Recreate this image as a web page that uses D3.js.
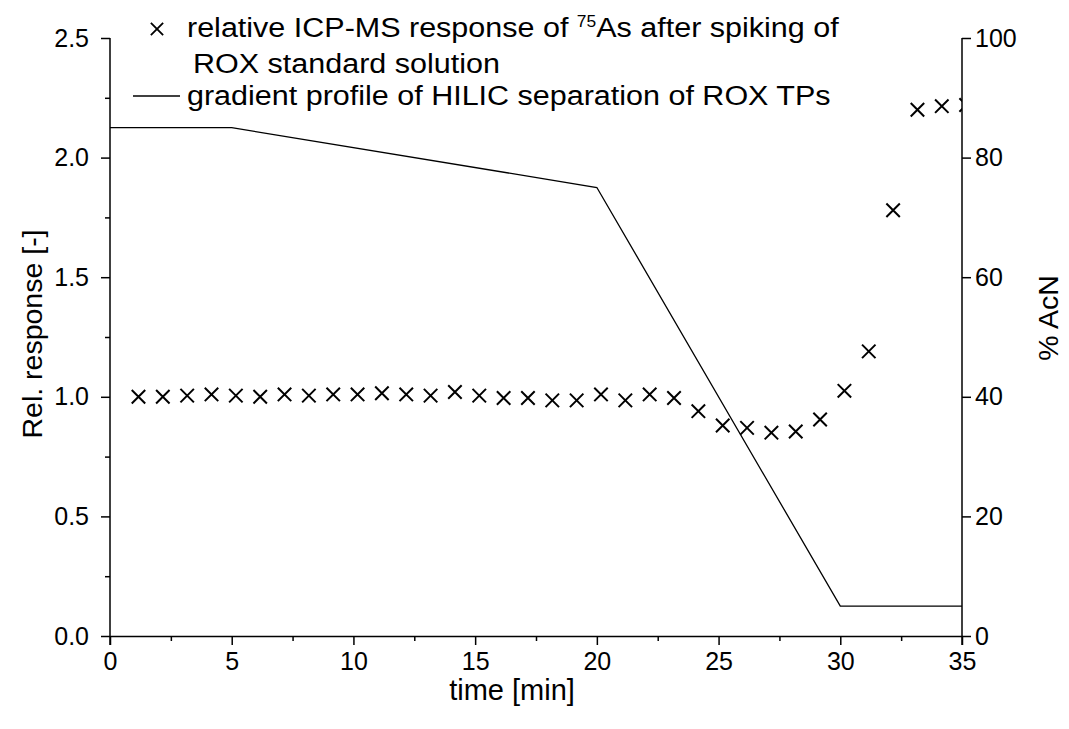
<!DOCTYPE html>
<html>
<head>
<meta charset="utf-8">
<script src="https://cdn.jsdelivr.net/npm/d3@7"></script>
<style>
  body { margin: 0; background: #fff; }
  svg text { font-family: "Liberation Sans", Arial, sans-serif; fill: #000; }
  .axis path, .axis line { stroke: #000; stroke-width: 1.5px; }
  .axis text { font-size: 25px; font-family: "Liberation Sans", Arial, sans-serif; }
</style>
</head>
<body>
<div id="chart"></div>
<script>
// measured ICP-MS response (crosses)
const times = [1.17, 2.17, 3.17, 4.17, 5.17, 6.17, 7.17, 8.17, 9.17, 10.17,
               11.17, 12.17, 13.17, 14.17, 15.17, 16.17, 17.17, 18.17, 19.17, 20.17,
               21.17, 22.17, 23.17, 24.17, 25.17, 26.17, 27.17, 28.17, 29.17, 30.17,
               31.17, 32.17, 33.17, 34.17, 35.17];
const response = [1.00, 1.00, 1.005, 1.01, 1.005, 1.00, 1.01, 1.005, 1.01, 1.01,
                  1.015, 1.01, 1.005, 1.02, 1.005, 0.995, 0.995, 0.985, 0.985, 1.01,
                  0.985, 1.01, 0.995, 0.94, 0.88, 0.87, 0.85, 0.855, 0.905, 1.025,
                  1.19, 1.78, 2.20, 2.215, 2.22];

// HILIC gradient profile (line)
const gradTime = [0, 5, 20, 30, 35];
const gradAcN = [85, 85, 75, 5, 5];

const xTicks = [0, 5, 10, 15, 20, 25, 30, 35];
const yLeftTicks = [0, 0.5, 1.0, 1.5, 2.0, 2.5];
const yRightTicks = [0, 20, 40, 60, 80, 100];

const W = 1069, H = 729;
const margin = {top: 38, right: 107, bottom: 93, left: 110};
const width = W - margin.left - margin.right;
const height = H - margin.top - margin.bottom;

const svg = d3.select('#chart').append('svg')
    .attr('width', W)
    .attr('height', H);

const chart = svg.append('g')
    .attr('transform', `translate(${margin.left},${margin.top})`);

const x = d3.scaleLinear().domain([0, 35]).range([0, width]);
const yL = d3.scaleLinear().domain([0, 2.5]).range([height, 0]);
const yR = d3.scaleLinear().domain([0, 100]).range([height, 0]);

// minor ticks first so major ones draw on top
chart.append('g')
    .attr('class', 'axis')
    .attr('transform', `translate(0,${height})`)
    .call(d3.axisBottom(x).tickValues(d3.range(2.5, 35, 5)).tickSize(5).tickFormat('').tickSizeOuter(0))
    .select('.domain').remove();
chart.append('g')
    .attr('class', 'axis')
    .call(d3.axisLeft(yL).tickValues(d3.range(0.25, 2.5, 0.5)).tickSize(5).tickFormat('').tickSizeOuter(0))
    .select('.domain').remove();

const xAxisG = chart.append('g')
    .attr('class', 'axis')
    .attr('transform', `translate(0,${height})`)
    .call(d3.axisBottom(x).tickValues(xTicks).tickSize(9).tickPadding(7).tickSizeOuter(0).tickFormat(d3.format('d')));

const yAxisG = chart.append('g')
    .attr('class', 'axis')
    .call(d3.axisLeft(yL).tickValues(yLeftTicks).tickSize(9).tickPadding(12).tickSizeOuter(0).tickFormat(d3.format('.1f')));

const yRAxisG = chart.append('g')
    .attr('class', 'axis')
    .attr('transform', `translate(${width},0)`)
    .call(d3.axisRight(yR).tickValues(yRightTicks).tickSize(9).tickPadding(4).tickSizeOuter(0));

// axis lines run a little past the origin, as in the original
yAxisG.select('.domain').attr('d', `M0,0V${height + 9}`);
yRAxisG.select('.domain').attr('d', `M0,0V${height + 9}`);

// clip for markers
chart.append('clipPath').attr('id', 'plotclip')
    .append('rect').attr('x', 0).attr('y', -10).attr('width', width).attr('height', height + 10);

// gradient line
const gradData = gradTime.map((t, i) => ({t, v: gradAcN[i]}));
chart.append('path')
    .datum(gradData)
    .attr('fill', 'none')
    .attr('stroke', '#000')
    .attr('stroke-width', 1.3)
    .attr('d', d3.line().x(d => x(d.t)).y(d => yR(d.v)));

// crosses
const cross = d3.symbol().type(d3.symbolX).size(120);
const respData = times.map((t, i) => ({t, v: response[i]}));
chart.append('g')
    .attr('clip-path', 'url(#plotclip)')
    .selectAll('.pt')
    .data(respData)
    .join('path')
    .attr('class', 'pt')
    .attr('transform', d => `translate(${x(d.t)},${yL(d.v)})`)
    .attr('d', cross)
    .attr('fill', 'none')
    .attr('stroke', '#000')
    .attr('stroke-width', 2);

// axis titles
svg.append('text')
    .attr('x', 512)
    .attr('y', 700)
    .attr('text-anchor', 'middle')
    .style('font-size', '29px')
    .text('time [min]');

svg.append('text')
    .attr('transform', `translate(42,334) rotate(-90)`)
    .attr('text-anchor', 'middle')
    .style('font-size', '28.5px')
    .text('Rel. response [-]');

svg.append('text')
    .attr('transform', `translate(1058,318) rotate(-90)`)
    .attr('text-anchor', 'middle')
    .style('font-size', '28.5px')
    .text('% AcN');

// legend
const legend = svg.append('g');
legend.append('path')
    .attr('transform', 'translate(157,29)')
    .attr('d', d3.symbol().type(d3.symbolX).size(100))
    .attr('fill', 'none')
    .attr('stroke', '#000')
    .attr('stroke-width', 1.8);
legend.append('line')
    .attr('x1', 133).attr('x2', 180)
    .attr('y1', 96).attr('y2', 96)
    .attr('stroke', '#000')
    .attr('stroke-width', 1.3);

// legend texts are a bit wider than plain Arial, so stretch them horizontally
const lgText = (x0, y0) => legend.append('g')
    .attr('transform', `translate(${x0},${y0}) scale(1.09,1)`)
    .append('text')
    .style('font-size', '28px');

const t1 = lgText(187, 37);
t1.append('tspan').text('relative ICP-MS response of ');
t1.append('tspan').attr('dy', -10).style('font-size', '16px').text('75');
t1.append('tspan').attr('dy', 10).text('As after spiking of');
lgText(193, 73).text('ROX standard solution');
lgText(187, 105).text('gradient profile of HILIC separation of ROX TPs');
</script>
</body>
</html>
